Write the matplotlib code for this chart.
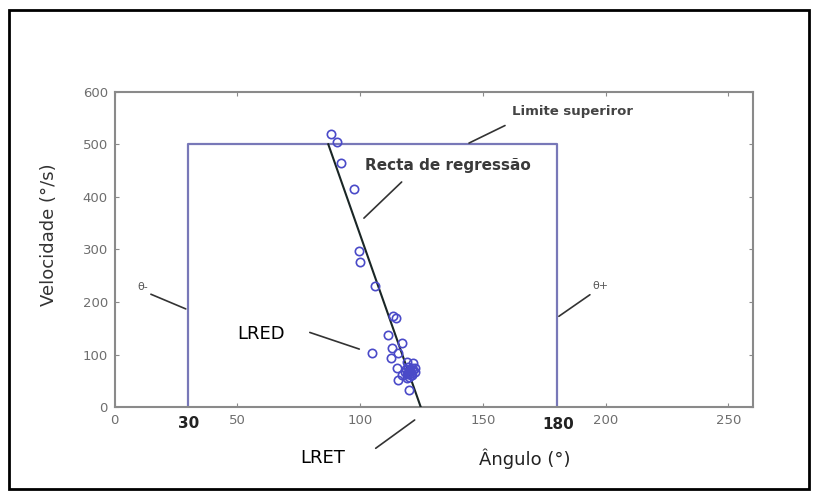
import matplotlib.pyplot as plt
from matplotlib.patches import Rectangle

# measured points (angulo, velocidade)
ang = [88, 90.5, 92, 97.5, 99.5, 100, 106, 113.5, 114.5, 111.5, 105, 117,
       113, 112.5, 115.5, 115, 119, 121.5, 122.4, 120.4, 118.3, 117, 121,
       115.6, 119, 120, 122.4, 119.6, 119.5, 120.5, 118.8, 121.5, 120,
       119.8, 120.8, 119.2, 121]
vel = [520, 505, 465, 415, 298, 277, 230, 174, 170, 138, 104, 122,
       112, 94, 103, 74, 87, 84, 74, 71, 68, 61, 61,
       52, 55, 33, 68, 77, 65, 62, 72, 70, 58,
       67, 66, 63, 75]

# recta de regressao (extremos)
reg_x = [87, 124.7]
reg_y = [500, 0]

# limites theta- / theta+ e limite superior
theta_min, theta_max, v_sup = 30, 180, 500
box_x = [theta_min, theta_min, theta_max, theta_max]
box_y = [0, v_sup, v_sup, 0]

xticks = [0, 50, 100, 150, 200, 250]
yticks = [0, 100, 200, 300, 400, 500, 600]

fig = plt.figure(figsize=(8.16, 4.91), dpi=100)
ax = fig.add_axes([114.7 / 816, 1 - 407.3 / 491, (753 - 114.7) / 816, (407.3 - 91.7) / 491])

gray = '#8a8a8a'
ax.plot(box_x, box_y, color='#7878b8', lw=1.6, zorder=2)
ax.plot(reg_x, reg_y, color='#1a2626', lw=1.5, zorder=3)
ax.plot(ang, vel, 'o', ms=6, mfc='none', mec='#4a4ac8', mew=1.2, zorder=4)

ax.set_xlim(0, 260)
ax.set_ylim(0, 600)
ax.set_xticks(xticks)
ax.set_yticks(yticks)
ax.tick_params(direction='in', length=3, top=True, right=True, color=gray,
               labelcolor='#6e6e6e', labelsize=9.5, pad=5)
for s in ax.spines.values():
    s.set_color(gray)
    s.set_linewidth(1.5)

line_kw = dict(arrowstyle='-', color='#333333', lw=1.2)

ax.annotate('', xy=(143.3, 500), xytext=(160, 538), arrowprops=line_kw)
ax.text(161.8, 562, 'Limite superiror', fontsize=9.5, fontweight='bold',
        color='#444444', va='center', ha='left')

ax.annotate('', xy=(100.7, 356), xytext=(117.7, 432), arrowprops=line_kw)
ax.text(102, 460, 'Recta de regressão', fontsize=11, fontweight='bold',
        color='#3a3a3a', va='center', ha='left')

ax.annotate('', xy=(30, 185), xytext=(13.7, 217), arrowprops=line_kw)
ax.text(11.5, 229, 'θ-', fontsize=8, color='#555555', va='center', ha='center')

ax.annotate('', xy=(180, 170), xytext=(194.5, 217), arrowprops=line_kw)
ax.text(198, 231, 'θ+', fontsize=8, color='#555555', va='center', ha='center')

ax.annotate('', xy=(100.7, 109), xytext=(78.4, 144), arrowprops=line_kw)
ax.text(49.8, 139, 'LRED', fontsize=13, color='black', va='center', ha='left')

ax.annotate('', xy=(123.1, -21), xytext=(105.4, -81), arrowprops=line_kw,
            annotation_clip=False)
ax.text(75.6, -97, 'LRET', fontsize=13, color='black', va='center', ha='left',
        clip_on=False)

ax.text(167, -97, 'Ângulo (°)', fontsize=13, color='#222222', va='center',
        ha='center', clip_on=False)
ax.text(-26.8, 328, 'Velocidade (°/s)', fontsize=13, color='#333333',
        rotation=90, va='center', ha='center', clip_on=False)

ax.text(theta_min, -30, '30', fontsize=11, fontweight='bold', color='#222222',
        va='center', ha='center', clip_on=False)
ax.text(theta_max + 0.5, -32, '180', fontsize=11, fontweight='bold',
        color='#222222', va='center', ha='center', clip_on=False)

fig.patches.append(Rectangle((8.5 / 816, 2.5 / 491), (809 - 8.5) / 816,
                             (491 - 9.5 - 2.5) / 491, transform=fig.transFigure,
                             fill=False, ec='black', lw=2.0))

fig.savefig('out.png', dpi=100)
